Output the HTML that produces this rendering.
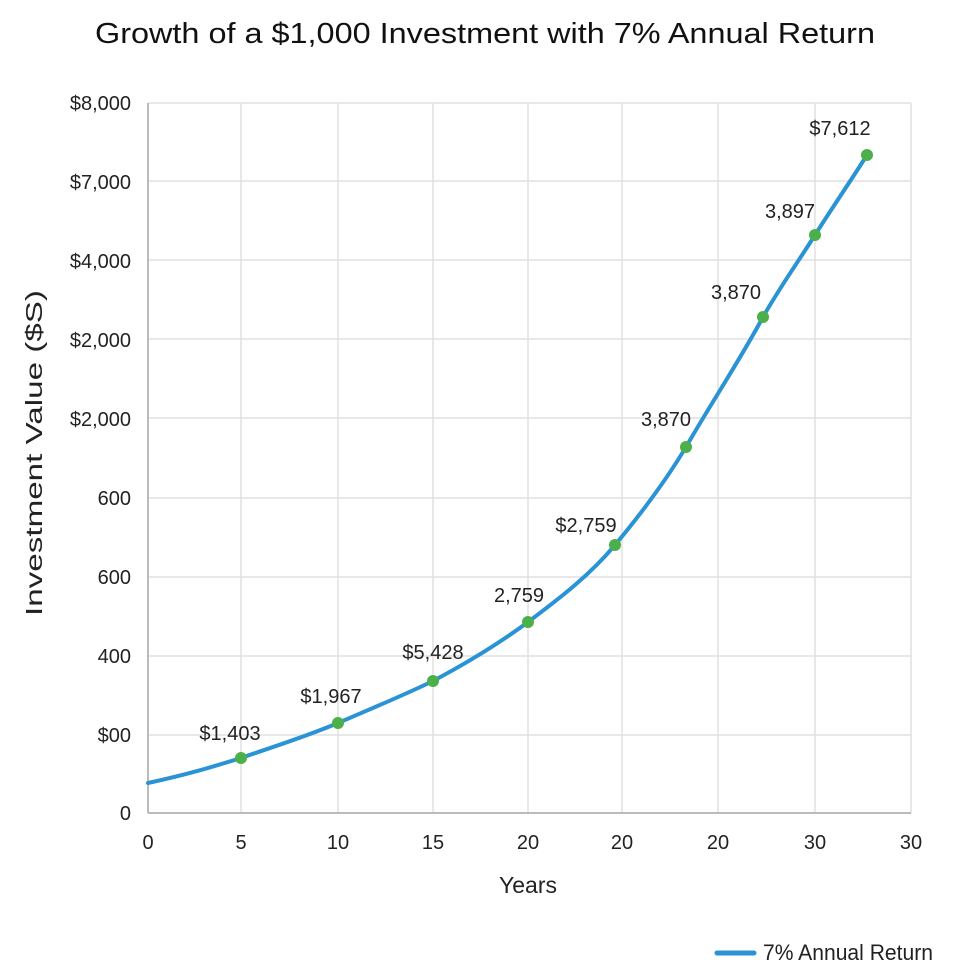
<!DOCTYPE html>
<html><head><meta charset="utf-8"><style>
html,body{margin:0;padding:0;background:#fff;}
svg{display:block;font-family:"Liberation Sans","DejaVu Sans",sans-serif;}
</style></head><body>
<svg width="975" height="970" viewBox="0 0 975 970" xmlns="http://www.w3.org/2000/svg">
<rect width="975" height="970" fill="#fff"/>
<text x="95" y="43" font-size="29" textLength="780" lengthAdjust="spacingAndGlyphs" fill="#111">Growth of a $1,000 Investment with 7% Annual Return</text>
<g stroke="#e0e0e0" stroke-width="1.5">
<line x1="148" y1="103" x2="911" y2="103"/>
<line x1="148" y1="181" x2="911" y2="181"/>
<line x1="148" y1="260" x2="911" y2="260"/>
<line x1="148" y1="339" x2="911" y2="339"/>
<line x1="148" y1="418" x2="911" y2="418"/>
<line x1="148" y1="498" x2="911" y2="498"/>
<line x1="148" y1="577" x2="911" y2="577"/>
<line x1="148" y1="656" x2="911" y2="656"/>
<line x1="148" y1="735" x2="911" y2="735"/>
<line x1="241" y1="103" x2="241" y2="813"/>
<line x1="338" y1="103" x2="338" y2="813"/>
<line x1="433" y1="103" x2="433" y2="813"/>
<line x1="528" y1="103" x2="528" y2="813"/>
<line x1="622" y1="103" x2="622" y2="813"/>
<line x1="718" y1="103" x2="718" y2="813"/>
<line x1="815" y1="103" x2="815" y2="813"/>
<line x1="911" y1="103" x2="911" y2="813"/>
</g>
<line x1="148" y1="103" x2="148" y2="813" stroke="#bbb" stroke-width="2"/>
<line x1="148" y1="813" x2="911" y2="813" stroke="#bbb" stroke-width="2"/>
<g font-size="20" fill="#222" text-anchor="end">
<text x="131" y="110">$8,000</text>
<text x="131" y="189">$7,000</text>
<text x="131" y="268">$4,000</text>
<text x="131" y="347">$2,000</text>
<text x="131" y="426">$2,000</text>
<text x="131" y="505">600</text>
<text x="131" y="584">600</text>
<text x="131" y="663">400</text>
<text x="131" y="742">$00</text>
<text x="131" y="820">0</text>
</g>
<g font-size="20" fill="#222" text-anchor="middle">
<text x="148" y="849">0</text>
<text x="241" y="849">5</text>
<text x="338" y="849">10</text>
<text x="433" y="849">15</text>
<text x="528" y="849">20</text>
<text x="622" y="849">20</text>
<text x="718" y="849">20</text>
<text x="815" y="849">30</text>
<text x="911" y="849">30</text>
</g>
<text x="528" y="893" font-size="23" text-anchor="middle" fill="#222">Years</text>
<text transform="translate(42,616) rotate(-90)" font-size="23" textLength="326" lengthAdjust="spacingAndGlyphs" fill="#222">Investment Value ($S)</text>
<path d="M148,783 C190,774 215,766 241,758 C275,746 305,737 338,723 C370,709 400,697 433,681 C465,664 497,645 528,622 C560,598 590,575 615,545 C640,515 665,482 686,447 C710,405 740,360 763,317 C780,287 798,262 815,235 C832,208 850,182 867,155" fill="none" stroke="#2a93d5" stroke-width="4" stroke-linecap="round"/>
<g fill="#4cb04a">
<circle cx="241" cy="758" r="6"/>
<circle cx="338" cy="723" r="6"/>
<circle cx="433" cy="681" r="6"/>
<circle cx="528" cy="622" r="6"/>
<circle cx="615" cy="545" r="6"/>
<circle cx="686" cy="447" r="6"/>
<circle cx="763" cy="317" r="6"/>
<circle cx="815" cy="235" r="6"/>
<circle cx="867" cy="155" r="6"/>
</g>
<g font-size="20" fill="#222" text-anchor="middle">
<text x="230" y="740">$1,403</text>
<text x="331" y="703">$1,967</text>
<text x="433" y="659">$5,428</text>
<text x="519" y="602">2,759</text>
<text x="586" y="532">$2,759</text>
<text x="666" y="426">3,870</text>
<text x="736" y="299">3,870</text>
<text x="790" y="218">3,897</text>
<text x="840" y="135">$7,612</text>
</g>
<line x1="717" y1="953" x2="754" y2="953" stroke="#2a93d5" stroke-width="5" stroke-linecap="round"/>
<text x="763" y="960" font-size="22" textLength="170" lengthAdjust="spacingAndGlyphs" fill="#222">7% Annual Return</text>
</svg>
</body></html>
